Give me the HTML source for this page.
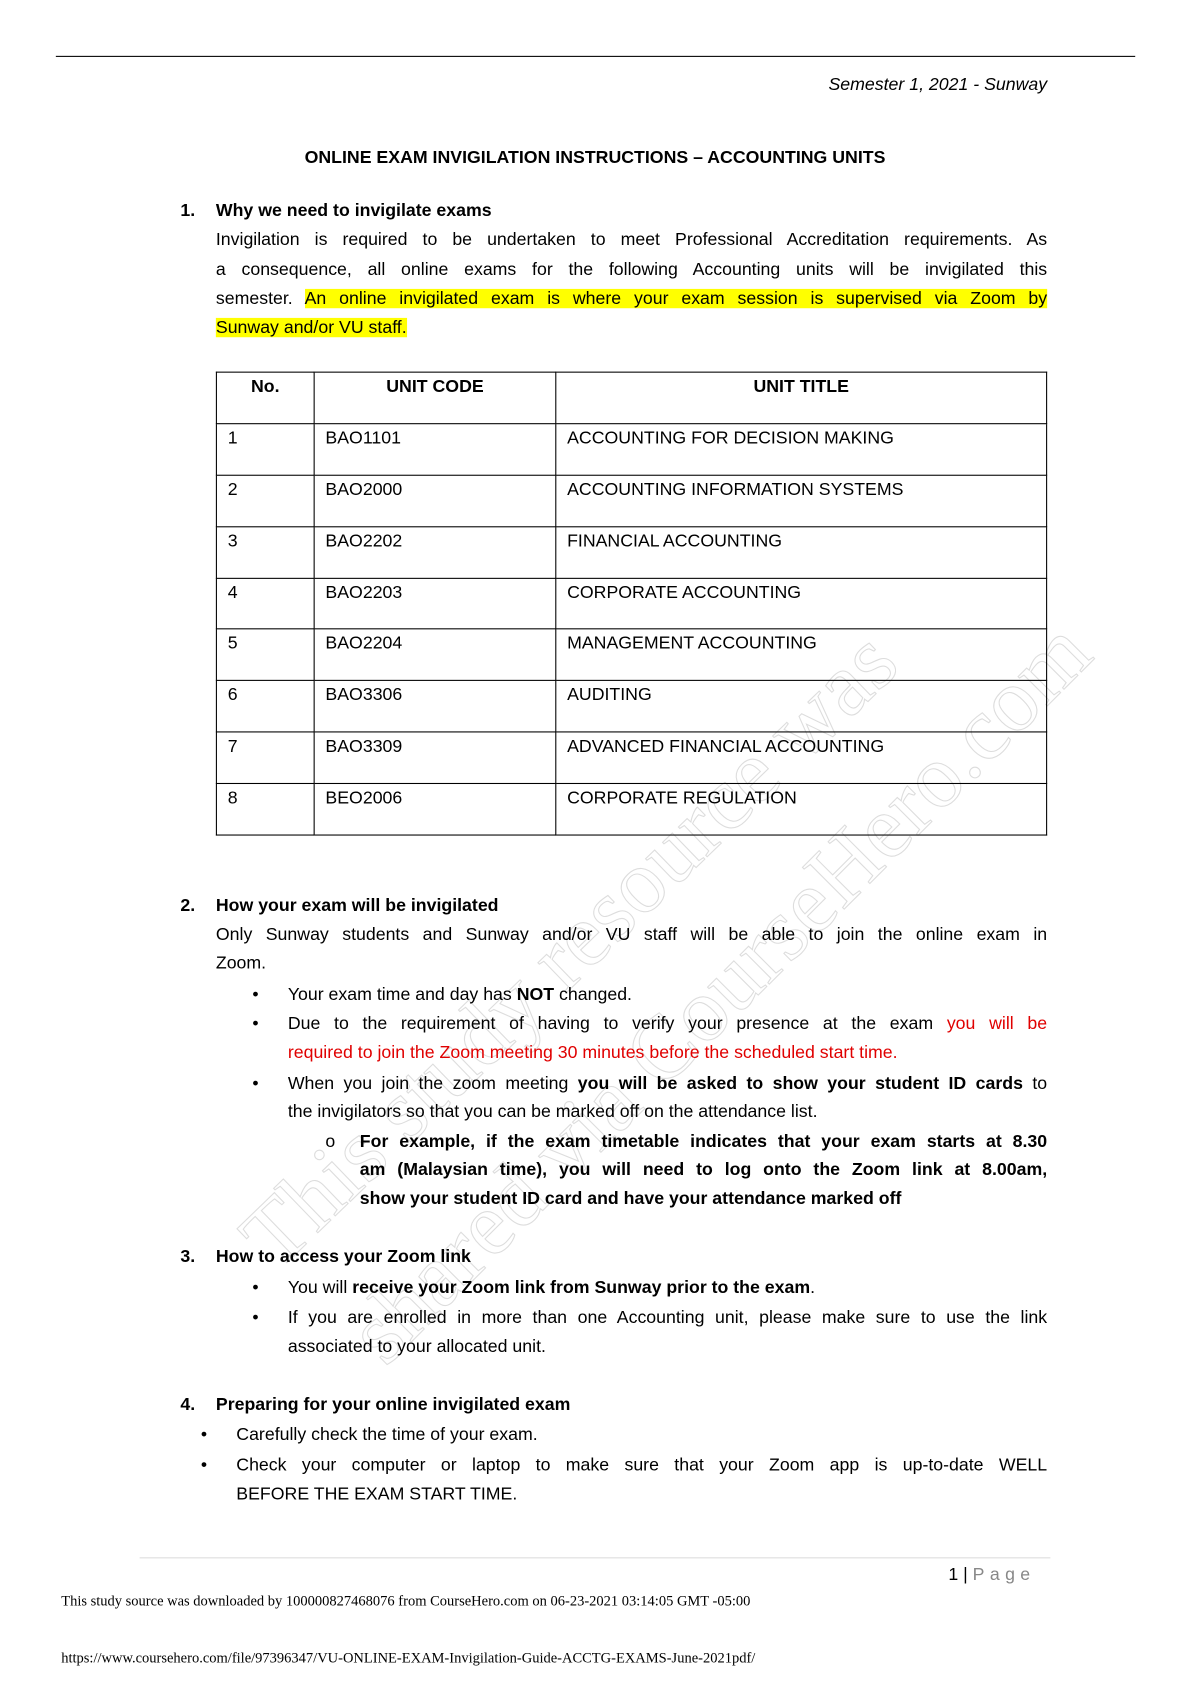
<!DOCTYPE html>
<html><head><meta charset="utf-8"><style>
html,body{margin:0;padding:0;background:#fff;}
body{width:1190px;height:1684px;overflow:hidden;position:relative;}
#p{position:absolute;left:0;top:0;width:1108px;height:1568px;transform:scale(1.074);transform-origin:0 0;font-family:"Liberation Sans",sans-serif;font-size:16.5px;color:#000;}
.l{position:absolute;white-space:nowrap;line-height:22px;}
.j{position:absolute;line-height:22px;text-align:justify;text-align-last:justify;white-space:nowrap;}
.b{font-weight:bold;}
.r{color:#e00000;}
.hl{background:#ffff00;}
table{position:absolute;left:201px;top:346px;border-collapse:collapse;width:774px;}
td{border:1.3px solid #000;height:44.9px;vertical-align:top;padding:2px 10px 0 10px;line-height:22px;font-size:16.5px;box-sizing:content-box;}
.wm{position:absolute;color:rgba(0,0,0,0);-webkit-text-stroke:1px #ddd;font-family:"Liberation Serif",serif;white-space:nowrap;transform-origin:0 0;}
</style></head><body><div id="p">
<div class="wm" style="left:205px;top:1130px;font-size:84px;transform:rotate(-44deg);">This study resource was</div>
<div class="wm" style="left:305px;top:1220px;font-size:84px;transform:rotate(-45deg);">shared via CourseHero.com</div>
<div style="position:absolute;left:52px;top:52px;width:1005px;height:1px;background:#000"></div>
<div class="l" style="right:133px;top:68px;font-style:italic;">Semester 1, 2021 - Sunway</div>
<div class="l b" style="left:0;width:1108px;text-align:center;top:136px;">ONLINE EXAM INVIGILATION INSTRUCTIONS – ACCOUNTING UNITS</div>
<div class="l b" style="left:168px;top:185px;">1.</div>
<div class="l b" style="left:201px;top:185px;">Why we need to invigilate exams</div>
<div class="j" style="left:201px;width:774px;top:212px;">Invigilation is required to be undertaken to meet Professional Accreditation requirements. As</div>
<div class="j" style="left:201px;width:774px;top:240px;">a consequence, all online exams for the following Accounting units will be invigilated this</div>
<div class="j" style="left:201px;width:774px;top:267px;">semester. <span class="hl">An online invigilated exam is where your exam session is supervised via Zoom by</span></div>
<div class="l" style="left:201px;top:294px;"><span class="hl">Sunway and/or VU staff.</span></div>
<table>
<tr><td class="b" style="width:70px;text-align:center">No.</td><td class="b" style="width:204px;text-align:center">UNIT CODE</td><td class="b" style="text-align:center">UNIT TITLE</td></tr>
<tr><td>1</td><td>BAO1101</td><td>ACCOUNTING FOR DECISION MAKING</td></tr>
<tr><td>2</td><td>BAO2000</td><td>ACCOUNTING INFORMATION SYSTEMS</td></tr>
<tr><td>3</td><td>BAO2202</td><td>FINANCIAL ACCOUNTING</td></tr>
<tr><td>4</td><td>BAO2203</td><td>CORPORATE ACCOUNTING</td></tr>
<tr><td>5</td><td>BAO2204</td><td>MANAGEMENT ACCOUNTING</td></tr>
<tr><td>6</td><td>BAO3306</td><td>AUDITING</td></tr>
<tr><td>7</td><td>BAO3309</td><td>ADVANCED FINANCIAL ACCOUNTING</td></tr>
<tr><td>8</td><td>BEO2006</td><td>CORPORATE REGULATION</td></tr>
</table>
<div class="l b" style="left:168px;top:832px;">2.</div>
<div class="l b" style="left:201px;top:832px;">How your exam will be invigilated</div>
<div class="j" style="left:201px;width:774px;top:859px;">Only Sunway students and Sunway and/or VU staff will be able to join the online exam in</div>
<div class="l" style="left:201px;top:886px;">Zoom.</div>
<div class="l" style="left:235px;top:915px;">•</div>
<div class="l" style="left:268px;top:915px;">Your exam time and day has <b>NOT</b> changed.</div>
<div class="l" style="left:235px;top:942px;">•</div>
<div class="j" style="left:268px;width:707px;top:942px;">Due to the requirement of having to verify your presence at the exam <span class="r">you will be</span></div>
<div class="l r" style="left:268px;top:969px;">required to join the Zoom meeting 30 minutes before the scheduled start time.</div>
<div class="l" style="left:235px;top:998px;">•</div>
<div class="j" style="left:268px;width:707px;top:998px;">When you join the zoom meeting <b>you will be asked to show your student ID cards</b> to</div>
<div class="l" style="left:268px;top:1024px;">the invigilators so that you can be marked off on the attendance list.</div>
<div class="l" style="left:303px;top:1052px;">o</div>
<div class="j b" style="left:335px;width:640px;top:1052px;">For example, if the exam timetable indicates that your exam starts at 8.30</div>
<div class="j b" style="left:335px;width:640px;top:1078px;">am (Malaysian time), you will need to log onto the Zoom link at 8.00am,</div>
<div class="l b" style="left:335px;top:1105px;">show your student ID card and have your attendance marked off</div>
<div class="l b" style="left:168px;top:1159px;">3.</div>
<div class="l b" style="left:201px;top:1159px;">How to access your Zoom link</div>
<div class="l" style="left:235px;top:1188px;">•</div>
<div class="l" style="left:268px;top:1188px;">You will <b>receive your Zoom link from Sunway prior to the exam</b>.</div>
<div class="l" style="left:235px;top:1216px;">•</div>
<div class="j" style="left:268px;width:707px;top:1216px;">If you are enrolled in more than one Accounting unit, please make sure to use the link</div>
<div class="l" style="left:268px;top:1243px;">associated to your allocated unit.</div>
<div class="l b" style="left:168px;top:1297px;">4.</div>
<div class="l b" style="left:201px;top:1297px;">Preparing for your online invigilated exam</div>
<div class="l" style="left:187px;top:1325px;">•</div>
<div class="l" style="left:220px;top:1325px;">Carefully check the time of your exam.</div>
<div class="l" style="left:187px;top:1353px;">•</div>
<div class="j" style="left:220px;width:755px;top:1353px;">Check your computer or laptop to make sure that your Zoom app is up-to-date WELL</div>
<div class="l" style="left:220px;top:1380px;">BEFORE THE EXAM START TIME.</div>
<div style="position:absolute;left:130px;top:1450px;width:848px;height:1px;background:#ddd"></div>
<div class="l" style="left:883px;top:1455px;">1 | <span style="color:#888;letter-spacing:5px">Page</span></div>
<div class="l" style="left:57px;top:1480px;font-family:'Liberation Serif',serif;font-size:13.5px;">This study source was downloaded by 100000827468076 from CourseHero.com on 06-23-2021 03:14:05 GMT -05:00</div>
<div class="l" style="left:57px;top:1533px;font-family:'Liberation Serif',serif;font-size:13.5px;">https://www.coursehero.com/file/97396347/VU-ONLINE-EXAM-Invigilation-Guide-ACCTG-EXAMS-June-2021pdf/</div>
</div></body></html>
